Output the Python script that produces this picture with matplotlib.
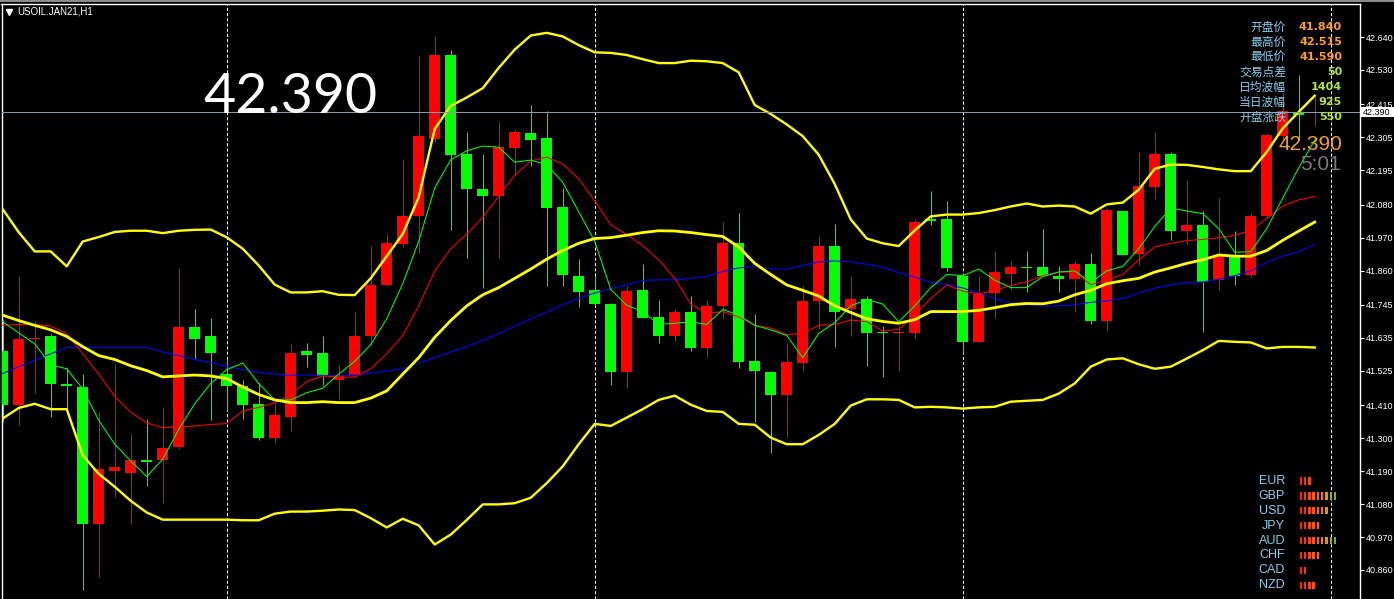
import numpy as np
import matplotlib.pyplot as plt
from matplotlib.patches import Rectangle

plt.rcParams['font.family'] = ['Liberation Sans', 'DejaVu Sans']

# ---- hourly candles, USOIL.JAN21 H1 (red = up, green = down) ----
opens = [41.593, 41.410, 41.630, 41.640, 41.482, 41.472, 41.012, 41.192, 41.185, 41.227,
         41.227, 41.270, 41.673, 41.642, 41.514, 41.473, 41.415, 41.302, 41.372, 41.591,
         41.585, 41.495, 41.511, 41.641, 41.811, 41.948, 42.041, 42.300, 42.580, 42.250,
         42.131, 42.110, 42.269, 42.320, 42.302, 42.073, 41.843, 41.796, 41.749, 41.520,
         41.796, 41.706, 41.643, 41.722, 41.600, 41.741, 41.953, 41.558, 41.522, 41.444,
         41.550, 41.757, 41.943, 41.732, 41.764, 41.654, 41.651, 41.653, 42.031, 42.031,
         41.843, 41.620, 41.784, 41.847, 41.872, 41.872, 41.843, 41.831, 41.882, 41.690,
         42.060, 41.914, 42.140, 42.250, 41.991, 42.013, 41.828, 41.913, 41.844, 42.041,
         42.308, 42.388, 42.385]
highs = [41.695, 41.843, 41.693, 41.649, 41.536, 41.514, 41.386, 41.548, 41.315, 41.365,
         41.405, 41.868, 41.732, 41.702, 41.566, 41.495, 41.483, 41.421, 41.615, 41.619,
         41.642, 41.546, 41.722, 41.943, 41.982, 42.234, 42.577, 42.645, 42.596, 42.323,
         42.250, 42.357, 42.332, 42.413, 42.394, 42.136, 41.900, 41.843, 41.753, 41.810,
         41.882, 41.763, 41.732, 41.776, 41.763, 42.023, 42.052, 41.716, 41.526, 41.617,
         41.807, 41.976, 42.017, 41.843, 41.775, 41.674, 41.675, 42.031, 42.126, 42.093,
         41.851, 41.843, 41.925, 41.892, 41.925, 41.998, 41.876, 41.892, 41.919, 42.070,
         42.062, 42.257, 42.323, 42.255, 42.163, 42.058, 42.103, 41.993, 42.052, 42.321,
         42.453, 42.513, 42.441]
lows = [41.355, 41.344, 41.450, 41.372, 41.397, 40.793, 40.836, 41.103, 41.015, 41.142,
        41.082, 41.265, 41.563, 41.360, 41.391, 41.363, 41.294, 41.283, 41.323, 41.539,
        41.479, 41.430, 41.504, 41.612, 41.810, 41.940, 41.918, 42.290, 41.994, 41.902,
        41.801, 41.902, 42.179, 42.210, 41.810, 41.810, 41.739, 41.742, 41.479, 41.468,
        41.700, 41.619, 41.626, 41.590, 41.571, 41.701, 41.535, 41.354, 41.250, 41.303,
        41.524, 41.664, 41.605, 41.643, 41.541, 41.504, 41.524, 41.635, 42.013, 41.858,
        41.586, 41.620, 41.701, 41.795, 41.787, 41.842, 41.789, 41.721, 41.680, 41.659,
        41.911, 41.879, 42.099, 41.961, 41.950, 41.654, 41.794, 41.812, 41.837, 42.036,
        42.296, 42.296, 42.343]
closes = [41.410, 41.632, 41.636, 41.481, 41.473, 41.012, 41.198, 41.205, 41.226, 41.222,
          41.267, 41.673, 41.630, 41.583, 41.473, 41.410, 41.302, 41.376, 41.585, 41.579,
          41.508, 41.511, 41.642, 41.813, 41.953, 42.043, 42.310, 42.580, 42.247, 42.134,
          42.110, 42.273, 42.323, 42.296, 42.070, 41.844, 41.789, 41.747, 41.522, 41.791,
          41.700, 41.641, 41.722, 41.600, 41.742, 41.953, 41.553, 41.524, 41.444, 41.556,
          41.759, 41.943, 41.723, 41.764, 41.653, 41.651, 41.654, 42.023, 42.025, 41.870,
          41.620, 41.782, 41.856, 41.872, 41.868, 41.842, 41.831, 41.882, 41.690, 42.062,
          41.911, 42.142, 42.250, 41.991, 42.013, 41.822, 41.908, 41.842, 42.043, 42.314,
          42.394, 42.380, 42.390]

# ---- indicators ----
bb_upper = [42.065, 41.988, 41.924, 41.924, 41.874, 41.957, 41.972, 41.989, 41.993, 41.993,
            41.985, 41.993, 41.996, 41.997, 41.971, 41.933, 41.877, 41.813, 41.787, 41.787,
            41.791, 41.779, 41.778, 41.834, 41.908, 41.982, 42.105, 42.333, 42.410, 42.438,
            42.469, 42.537, 42.598, 42.645, 42.654, 42.642, 42.613, 42.589, 42.587, 42.580,
            42.566, 42.553, 42.553, 42.561, 42.559, 42.553, 42.522, 42.413, 42.383, 42.348,
            42.309, 42.247, 42.149, 42.031, 41.967, 41.951, 41.942, 41.994, 42.041, 42.047,
            42.047, 42.052, 42.062, 42.074, 42.084, 42.074, 42.077, 42.074, 42.050, 42.081,
            42.087, 42.130, 42.200, 42.214, 42.213, 42.206, 42.198, 42.192, 42.192, 42.256,
            42.335, 42.390, 42.444]
bb_mid = [41.711, 41.693, 41.677, 41.662, 41.640, 41.606, 41.576, 41.563, 41.542, 41.526,
          41.505, 41.508, 41.511, 41.508, 41.499, 41.471, 41.446, 41.428, 41.419, 41.419,
          41.422, 41.419, 41.419, 41.434, 41.458, 41.514, 41.569, 41.637, 41.693, 41.742,
          41.779, 41.803, 41.834, 41.865, 41.898, 41.927, 41.951, 41.967, 41.970, 41.978,
          41.987, 41.993, 41.992, 41.987, 41.980, 41.974, 41.939, 41.884, 41.847, 41.812,
          41.794, 41.775, 41.742, 41.720, 41.699, 41.690, 41.684, 41.696, 41.723, 41.723,
          41.723, 41.727, 41.736, 41.746, 41.750, 41.749, 41.758, 41.779, 41.794, 41.816,
          41.826, 41.834, 41.855, 41.869, 41.884, 41.896, 41.912, 41.908, 41.908, 41.927,
          41.961, 41.992, 42.022]
bb_lower = [41.366, 41.401, 41.415, 41.397, 41.397, 41.243, 41.181, 41.138, 41.091, 41.052,
            41.028, 41.028, 41.028, 41.028, 41.028, 41.026, 41.026, 41.048, 41.055, 41.055,
            41.058, 41.062, 41.060, 41.033, 41.002, 41.031, 41.009, 40.945, 40.978, 41.027,
            41.079, 41.079, 41.083, 41.101, 41.150, 41.206, 41.280, 41.348, 41.341, 41.369,
            41.397, 41.428, 41.442, 41.412, 41.391, 41.388, 41.348, 41.345, 41.302, 41.280,
            41.280, 41.311, 41.348, 41.409, 41.430, 41.430, 41.428, 41.403, 41.405, 41.403,
            41.399, 41.403, 41.405, 41.422, 41.425, 41.428, 41.449, 41.483, 41.539, 41.563,
            41.567, 41.547, 41.532, 41.539, 41.566, 41.594, 41.625, 41.622, 41.620, 41.600,
            41.605, 41.605, 41.603]
ma_fast = [41.689, 41.652, 41.615, 41.545, 41.532, 41.465, 41.360, 41.280, 41.224, 41.172,
           41.230, 41.329, 41.415, 41.483, 41.529, 41.551, 41.483, 41.428, 41.428, 41.452,
           41.467, 41.514, 41.557, 41.612, 41.699, 41.816, 41.958, 42.136, 42.230, 42.260,
           42.276, 42.272, 42.222, 42.229, 42.214, 42.155, 42.056, 41.958, 41.797, 41.744,
           41.723, 41.680, 41.684, 41.689, 41.680, 41.730, 41.711, 41.677, 41.662, 41.643,
           41.569, 41.650, 41.686, 41.742, 41.763, 41.748, 41.689, 41.742, 41.803, 41.847,
           41.843, 41.865, 41.828, 41.803, 41.803, 41.840, 41.855, 41.859, 41.820, 41.859,
           41.874, 41.933, 42.007, 42.069, 42.059, 42.050, 42.000, 41.921, 41.923, 42.000,
           42.102, 42.203, 42.296]
ma_mid = [41.677, 41.680, 41.680, 41.674, 41.650, 41.582, 41.514, 41.440, 41.387, 41.351,
          41.335, 41.338, 41.341, 41.346, 41.349, 41.391, 41.403, 41.418, 41.446, 41.489,
          41.508, 41.504, 41.504, 41.532, 41.582, 41.643, 41.742, 41.859, 41.933, 41.982,
          42.038, 42.108, 42.179, 42.226, 42.239, 42.216, 42.167, 42.093, 42.013, 41.980,
          41.943, 41.896, 41.834, 41.748, 41.717, 41.723, 41.705, 41.677, 41.668, 41.646,
          41.650, 41.677, 41.680, 41.695, 41.689, 41.658, 41.664, 41.711, 41.767, 41.812,
          41.791, 41.782, 41.794, 41.810, 41.822, 41.843, 41.855, 41.855, 41.813, 41.828,
          41.847, 41.896, 41.939, 41.951, 41.960, 41.964, 41.970, 41.978, 41.994, 42.034,
          42.075, 42.096, 42.108]
ma_slow = [41.516, 41.539, 41.561, 41.582, 41.603, 41.603, 41.603, 41.603, 41.603, 41.603,
           41.588, 41.576, 41.563, 41.553, 41.540, 41.529, 41.520, 41.514, 41.511, 41.511,
           41.510, 41.508, 41.511, 41.518, 41.524, 41.532, 41.551, 41.569, 41.589, 41.606,
           41.627, 41.650, 41.674, 41.699, 41.721, 41.746, 41.767, 41.785, 41.800, 41.812,
           41.827, 41.829, 41.829, 41.834, 41.841, 41.857, 41.869, 41.874, 41.865, 41.865,
           41.877, 41.889, 41.892, 41.889, 41.881, 41.871, 41.853, 41.838, 41.820, 41.813,
           41.802, 41.785, 41.767, 41.750, 41.746, 41.742, 41.742, 41.746, 41.754, 41.758,
           41.767, 41.785, 41.801, 41.812, 41.820, 41.822, 41.831, 41.843, 41.859, 41.887,
           41.908, 41.923, 41.948]

day_breaks = [14, 37, 60, 83]
last_price = 42.390
price_ticks = [42.640, 42.530, 42.415, 42.305, 42.195, 42.080, 41.970, 41.860, 41.745,
               41.635, 41.525, 41.410, 41.300, 41.190, 41.080, 40.970, 40.860]

info_labels = ['开盘价', '最高价', '最低价', '交易点差', '日均波幅', '当日波幅', '开盘涨跌']
info_values = ['41.840', '42.515', '41.590', '50', '1404', '925', '550']
currencies = ['EUR', 'GBP', 'USD', 'JPY', 'AUD', 'CHF', 'CAD', 'NZD']
strength = [3, 9, 7, 5, 9, 5, 2, 4]

W, H = 1394, 599
fig = plt.figure(figsize=(W / 100, H / 100), dpi=100, facecolor='black')


def px_axes(x0, y0, x1, y1):
    return fig.add_axes([x0 / W, 1 - y1 / H, (x1 - x0) / W, (y1 - y0) / H])


ax = px_axes(1.5, 3.5, 1360, 599)
ax.set_facecolor('black')
ax.set_xlim(-0.075, 84.83)
ax.set_ylim(40.763, 42.752)

# period separators
for d in day_breaks:
    ax.axvline(d, color='white', lw=0.75, ls=(0, (3, 2)), zorder=1)

# candles
x = np.arange(len(opens))
o, hi, lo, c = map(np.array, (opens, highs, lows, closes))
col = np.where(c >= o, '#FF0000', '#00FF00')
ax.vlines(x, lo, hi, colors=col, lw=0.8, zorder=2)
body = np.maximum(np.abs(c - o), 0.005)
ax.bar(x, body, bottom=(o + c) / 2 - body / 2, width=0.68, color=col, lw=0, zorder=3)

# indicators
ax.plot(x, ma_slow, color='#0000FF', lw=0.75, zorder=4)
ax.plot(x, ma_mid, color='#FF0000', lw=0.75, zorder=4)
ax.plot(x, ma_fast, color='#00FF00', lw=0.75, zorder=4)
ax.plot(x, bb_upper, color='#FFFF00', lw=1.7, zorder=4)
ax.plot(x, bb_lower, color='#FFFF00', lw=1.7, zorder=4)
ax.plot(x, bb_mid, color='#FFFF00', lw=2.0, zorder=4)

ax.axhline(last_price, color='#8C99A6', lw=0.75, zorder=5)

# price scale
ax.yaxis.tick_right()
ax.set_yticks(price_ticks)
ax.set_yticklabels([f'{v:.3f}' for v in price_ticks])
ax.tick_params(axis='y', colors='white', length=3, width=0.8, pad=1.2, labelsize=6.5)
ax.set_xticks([])
for s in ('left', 'top', 'right'):
    ax.spines[s].set_color('white')
    ax.spines[s].set_linewidth(1)
ax.spines['bottom'].set_visible(False)

# overlay in pixel coordinates for the texts
ov = fig.add_axes([0, 0, 1, 1])
ov.set_xlim(0, W)
ov.set_ylim(H, 0)
ov.axis('off')
ov.patch.set_alpha(0)

ov.add_patch(Rectangle((0, 0), W, 2, color='#8C8C8C', lw=0))
ov.plot([8.5], [12], marker='v', ms=4, color='white', mec='white')
ov.text(17, 12, 'USOIL.JAN21,H1', color='white', fontsize=7, ha='left', va='center')

ov.text(203, 113, f'{last_price:.3f}', color='white', fontsize=40, family='Lato',
        ha='left', va='baseline')

cjk = ['Noto Sans CJK SC', 'DejaVu Sans']
for k, (lab, val) in enumerate(zip(info_labels, info_values)):
    yk = 27 + 15 * k
    ov.text(1286, yk, lab, color='#87CEEB', fontsize=8.5, family=cjk, ha='right', va='center')
    ov.text(1342, yk, val, color='#FFA01E' if k < 3 else '#B4E632', fontsize=8,
            family='DejaVu Sans', weight='bold', ha='right', va='center')

ov.text(1342, 150, f'{last_price:.3f}', color='#F0A030', fontsize=15, ha='right', va='baseline')
ov.text(1341, 170, '5:01', color='#7A7A7A', fontsize=15, ha='right', va='baseline')

ov.add_patch(Rectangle((1361, 107), 33, 10, color='white', lw=0))
ov.text(1363, 112.5, f'{last_price:.3f}', color='black', fontsize=6.5, ha='left', va='center')

for k, cur in enumerate(currencies):
    ov.text(1285, 481 + 14.9 * k, cur, color='#87CEEB', fontsize=9, ha='right', va='center')

# currency strength bars
bar_colors = ['#FF2200', '#FF3300', '#FF4400', '#FF5500', '#FF6600', '#FF7A00',
              '#E69500', '#A0B000', '#80B020']
cax = px_axes(1299, 474, 1342, 592)
cax.set_xlim(-0.4, 9.6)
cax.set_ylim(7.45, -0.47)
cax.axis('off')
cax.patch.set_alpha(0)
for r, n in enumerate(strength):
    cax.bar(np.arange(n), 0.49, bottom=r - 0.245, width=0.55, color=bar_colors[:n], lw=0)

fig.savefig('out.png', dpi=100, facecolor='black')
